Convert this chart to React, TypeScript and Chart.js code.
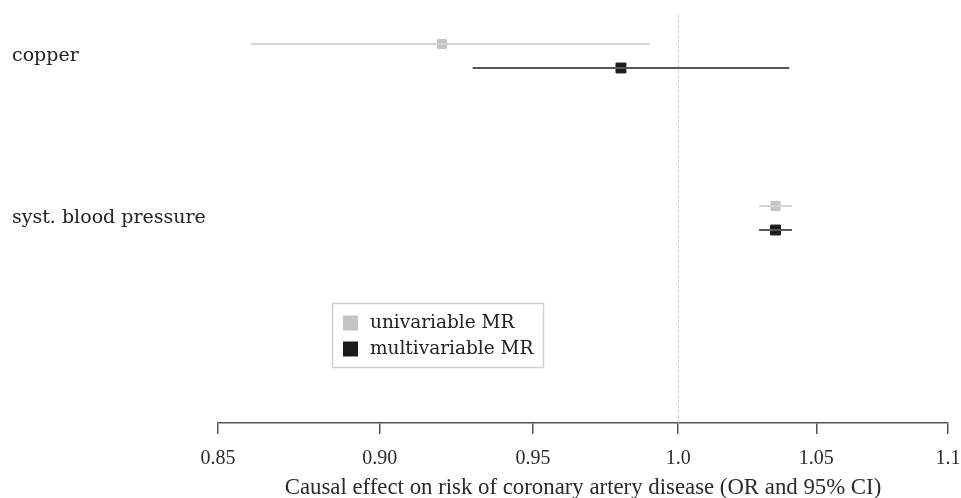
import React, { useEffect, useRef } from "react";
import { Chart, registerables } from "chart.js";

Chart.register(...registerables);

const categories = ["copper", "syst. blood pressure"];
const seriesNames = ["univariable MR", "multivariable MR"];
const uniEst = [0.92, 1.035];
const uniLo = [0.86, 1.029];
const uniHi = [0.99, 1.041];
const multiEst = [0.98, 1.035];
const multiLo = [0.93, 1.029];
const multiHi = [1.04, 1.041];
const xTicks = [0.85, 0.9, 0.95, 1.0, 1.05, 1.1];
const xTickLabels = ["0.85", "0.90", "0.95", "1.0", "1.05", "1.1"];
const xTitle = "Causal effect on risk of coronary artery disease (OR and 95% CI)";
const refValue = 1.0;

const UNI_POINT = "#c4c4c4";
const UNI_LINE = "#d4d4d4";
const MULTI_POINT = "#1c1c1c";
const MULTI_LINE = "#575757";
const OFFSET = 0.074;

const rowPos = (i: number) => categories.length - i;

export default function App() {
  const ref = useRef<HTMLCanvasElement | null>(null);
  useEffect(() => {
    if (!ref.current) return;
    const datasets: any[] = [];
    categories.forEach((_, i) => {
      const yU = rowPos(i) + OFFSET;
      const yM = rowPos(i) - OFFSET;
      datasets.push({
        type: "line",
        label: "ci-uni-" + i,
        data: [{ x: uniLo[i], y: yU }, { x: uniHi[i], y: yU }],
        borderColor: UNI_LINE,
        borderWidth: 2,
        pointRadius: 0,
        showLine: true,
      });
      datasets.push({
        type: "line",
        label: "ci-multi-" + i,
        data: [{ x: multiLo[i], y: yM }, { x: multiHi[i], y: yM }],
        borderColor: MULTI_LINE,
        borderWidth: 2,
        pointRadius: 0,
        showLine: true,
      });
    });
    datasets.push({
      type: "scatter",
      label: seriesNames[0],
      data: categories.map((_, i) => ({ x: uniEst[i], y: rowPos(i) + OFFSET })),
      pointStyle: "rect",
      pointRadius: 6.5,
      backgroundColor: UNI_POINT,
      borderColor: UNI_POINT,
      borderWidth: 1,
    });
    datasets.push({
      type: "scatter",
      label: seriesNames[1],
      data: categories.map((_, i) => ({ x: multiEst[i], y: rowPos(i) - OFFSET })),
      pointStyle: "rect",
      pointRadius: 7,
      backgroundColor: MULTI_POINT,
      borderColor: MULTI_POINT,
      borderWidth: 1,
    });

    const refLine = {
      id: "refLine",
      beforeDatasetsDraw(chart: any) {
        const { ctx, chartArea, scales } = chart;
        const x = Math.round(scales.x.getPixelForValue(refValue)) + 0.5;
        ctx.save();
        ctx.strokeStyle = "#cfcfcf";
        ctx.lineWidth = 1;
        ctx.setLineDash([3, 2]);
        ctx.beginPath();
        ctx.moveTo(x, chartArea.top);
        ctx.lineTo(x, chartArea.bottom);
        ctx.stroke();
        ctx.restore();
      },
    };

    const legendBox = {
      id: "legendBox",
      afterDatasetsDraw(chart: any) {
        const { ctx } = chart;
        ctx.save();
        ctx.fillStyle = "#ffffff";
        ctx.fillRect(332, 303, 211, 64);
        ctx.strokeStyle = "#d0d0d0";
        ctx.lineWidth = 1.5;
        ctx.strokeRect(332.5, 303.5, 211, 64);
        const colors = [UNI_POINT, MULTI_POINT];
        ctx.font = "18.5px 'DejaVu Serif'";
        ctx.textBaseline = "middle";
        seriesNames.forEach((name, k) => {
          const cy = 323 + k * 26;
          ctx.fillStyle = colors[k];
          ctx.fillRect(343, cy - 7.5, 15, 15);
          ctx.fillStyle = "#222";
          ctx.fillText(name, 370, cy);
        });
        ctx.restore();
      },
    };

    const chart = new Chart(ref.current, {
      type: "scatter",
      data: { datasets },
      plugins: [refLine, legendBox],
      options: {
        animation: false,
        responsive: false,
        maintainAspectRatio: false,
        layout: { padding: { top: 15, right: 13, left: 12, bottom: 0 } },
        plugins: {
          legend: { display: false },
          tooltip: { enabled: false },
        },
        scales: {
          x: {
            type: "logarithmic",
            min: 0.85,
            max: 1.1,
            afterBuildTicks(scale: any) {
              scale.ticks = xTicks.map((v) => ({ value: v }));
            },
            afterFit(scale: any) {
              scale.height = 75;
              scale.paddingLeft = 0;
              scale.paddingRight = 0;
            },
            ticks: {
              autoSkip: false,
              maxRotation: 0,
              color: "#2a2a2a",
              padding: 13,
              font: { family: "'Liberation Serif'", size: 20 },
              callback: (v: any) => {
                const idx = xTicks.findIndex((t) => Math.abs(t - Number(v)) < 1e-9);
                return idx >= 0 ? xTickLabels[idx] : "";
              },
            },
            grid: {
              drawOnChartArea: false,
              drawTicks: true,
              tickLength: 11,
              color: "#555",
              lineWidth: 1.5,
            },
            border: { display: true, color: "#555", width: 1.5 },
            title: {
              display: true,
              text: xTitle,
              color: "#2a2a2a",
              font: { family: "'Liberation Serif'", size: 22.8 },
              padding: { top: 0, bottom: -4 },
            },
          },
          y: {
            type: "linear",
            min: -0.265,
            max: 2.253,
            afterBuildTicks(scale: any) {
              scale.ticks = categories.map((_, i) => ({ value: rowPos(i) }));
            },
            afterFit(scale: any) {
              scale.width = 206;
              scale.paddingTop = 0;
              scale.paddingBottom = 0;
            },
            ticks: {
              crossAlign: "far",
              padding: 0,
              color: "#222",
              font: { family: "'DejaVu Serif'", size: 19 },
              callback: (v: any) => {
                const idx = categories.findIndex((_, i) => rowPos(i) === Number(v));
                return idx >= 0 ? categories[idx] : "";
              },
            },
            grid: { display: false, drawTicks: false },
            border: { display: false },
          },
        },
      },
    });
    return () => chart.destroy();
  }, []);

  return (
    <div style={{ position: "fixed", left: 0, top: 0, width: 961, height: 498, background: "#fff" }}>
      <canvas ref={ref} width={961} height={498} style={{ width: 961, height: 498 }} />
    </div>
  );
}
